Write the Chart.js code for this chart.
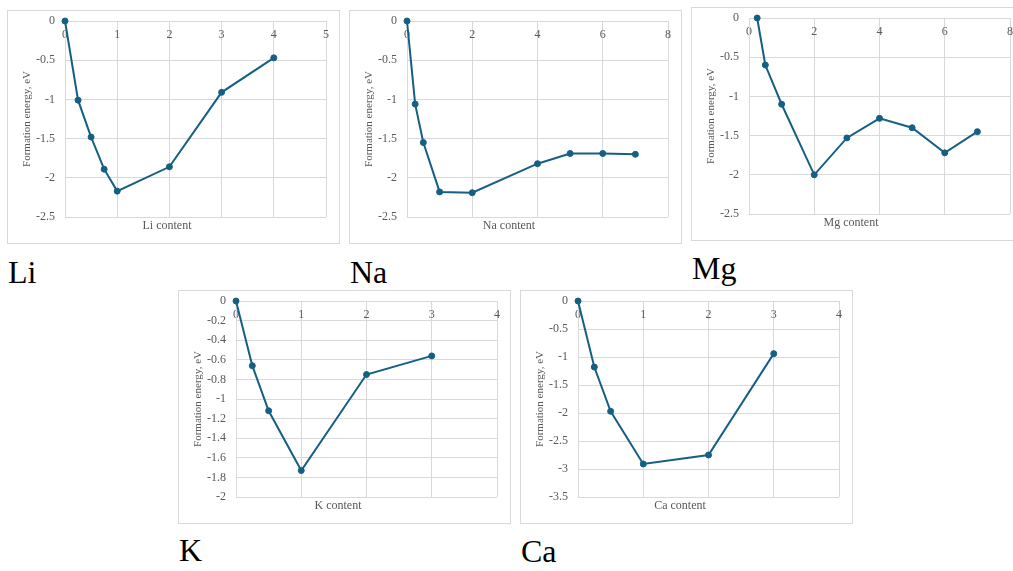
<!DOCTYPE html>
<html>
<head>
<meta charset="utf-8">
<script src="https://cdn.jsdelivr.net/npm/chart.js@4/dist/chart.umd.min.js"></script>
<style>
  body { margin: 0; background: #fff; width: 1013px; height: 571px; overflow: hidden; position: relative; }
  .box { position: absolute; width: 333px; height: 234px; border: 1px solid #d9d9d9; box-sizing: border-box; background: #fff; }
  .box canvas { display: block; }
  .tag { position: absolute; font-family: "Liberation Serif", serif; font-size: 32px; line-height: 32px; color: #000; }
</style>
</head>
<body>
<div class="box" style="left:7px;top:10px"><canvas id="li" width="331" height="232"></canvas></div>
<div class="box" style="left:349px;top:10px"><canvas id="na" width="331" height="232"></canvas></div>
<div class="box" style="left:691px;top:7px"><canvas id="mg" width="331" height="232"></canvas></div>
<div class="box" style="left:178px;top:290px"><canvas id="k" width="331" height="232"></canvas></div>
<div class="box" style="left:520px;top:290px"><canvas id="ca" width="331" height="232"></canvas></div>

<div class="tag" style="left:8px;top:256px">Li</div>
<div class="tag" style="left:350px;top:256px">Na</div>
<div class="tag" style="left:692px;top:252px">Mg</div>
<div class="tag" style="left:179px;top:534px">K</div>
<div class="tag" style="left:521px;top:535px">Ca</div>

<script>
// values
const liX = [0, 0.25, 0.5, 0.75, 1, 2, 3, 4];
const liY = [0, -1.01, -1.48, -1.89, -2.17, -1.86, -0.91, -0.47];

const naX = [0, 0.25, 0.5, 1, 2, 4, 5, 6, 7];
const naY = [0, -1.06, -1.55, -2.18, -2.19, -1.82, -1.69, -1.69, -1.70];

const mgX = [0.25, 0.5, 1, 2, 3, 4, 5, 6, 7];
const mgY = [0, -0.6, -1.1, -2.0, -1.53, -1.28, -1.4, -1.72, -1.45];

const kX = [0, 0.25, 0.5, 1, 2, 3];
const kY = [0, -0.66, -1.12, -1.73, -0.75, -0.56];

const caX = [0, 0.25, 0.5, 1, 2, 3];
const caY = [0, -1.18, -1.97, -2.91, -2.75, -0.94];

// axis ranges: [xMax, xStep, yMin, yStep]
const liAxis = [5, 1, -2.5, 0.5];
const naAxis = [8, 2, -2.5, 0.5];
const mgAxis = [8, 2, -2.5, 0.5];
const kAxis = [4, 1, -2, 0.2];
const caAxis = [4, 1, -3.5, 0.5];

const lineColor = "#156082";
const gray = "#595959";
const gridColor = "#d9d9d9";
const fontFamily = "'Liberation Serif', 'Times New Roman', serif";

function drawChart(id, xs, ys, axis, name) {
  const points = xs.map((x, i) => ({ x: x, y: ys[i] }));
  new Chart(document.getElementById(id), {
    type: "scatter",
    data: {
      datasets: [{
        data: points,
        showLine: true,
        borderColor: lineColor,
        backgroundColor: lineColor,
        borderWidth: 2,
        pointRadius: 3,
        pointBorderWidth: 1,
        clip: false,
      }],
    },
    options: {
      responsive: false,
      animation: false,
      layout: { padding: { top: 10, right: 13, left: 0, bottom: 0 } },
      plugins: {
        legend: { display: false },
        tooltip: { enabled: false },
        title: {
          display: true,
          position: "bottom",
          text: name + " content",
          color: gray,
          font: { family: fontFamily, size: 12, weight: "normal" },
          padding: { top: 2, bottom: 9.6 },
        },
      },
      scales: {
        x: {
          type: "linear",
          position: { y: 0 },
          min: 0,
          max: axis[0],
          ticks: {
            stepSize: axis[1],
            color: gray,
            padding: 7,
            maxRotation: 0,
            font: { family: fontFamily, size: 12 },
          },
          grid: { color: gridColor, drawTicks: false },
          border: { color: gridColor },
        },
        y: {
          type: "linear",
          min: axis[2],
          max: 0,
          afterFit: (scale) => {
            scale.width = 57;
            // keep the tick padding from pushing the plot down
            scale.paddingTop = 7;
            scale.paddingBottom = 7;
          },
          ticks: {
            stepSize: axis[3],
            color: gray,
            padding: 10,
            font: { family: fontFamily, size: 12 },
            callback: (v) => String(Math.round(v * 10) / 10),
          },
          grid: { color: gridColor, drawTicks: false },
          border: { color: gridColor },
          title: {
            display: true,
            text: "Formation energy, eV",
            color: gray,
            font: { family: fontFamily, size: 11 },
            padding: { top: 13, bottom: 0 },
          },
        },
      },
    },
  });
}

drawChart("li", liX, liY, liAxis, "Li");
drawChart("na", naX, naY, naAxis, "Na");
drawChart("mg", mgX, mgY, mgAxis, "Mg");
drawChart("k", kX, kY, kAxis, "K");
drawChart("ca", caX, caY, caAxis, "Ca");
</script>
</body>
</html>
